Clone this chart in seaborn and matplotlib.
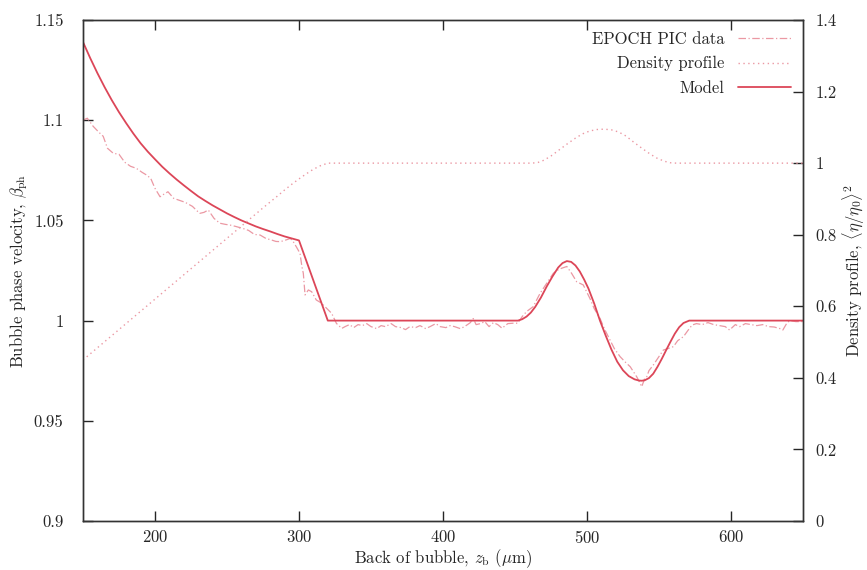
import matplotlib
matplotlib.use("Agg")
import matplotlib.pyplot as plt
import seaborn as sns
import pandas as pd
from matplotlib.ticker import FuncFormatter, MultipleLocator

# Model curve (beta_ph vs z_b, um)
model_z = [150, 155, 160, 165, 170, 175, 180, 185, 190, 195, 200, 205, 210, 215, 220, 225, 230,
           235, 240, 245, 250, 255, 260, 265, 270, 275, 280, 285, 290, 295, 300,
           320, 452, 455, 458, 461, 464, 468, 472, 476, 480, 483, 486, 489, 492, 495, 498,
           501, 505, 509, 513, 517, 521, 525, 529, 533, 536, 538, 540, 543, 546, 549, 552,
           555, 558, 561, 564, 567, 571, 650]
model_b = [1.139, 1.131, 1.1235, 1.1165, 1.110, 1.104, 1.0985, 1.0933, 1.0885, 1.0843, 1.0805,
           1.0768, 1.0735, 1.0704, 1.0675, 1.0647, 1.062, 1.0597, 1.0575, 1.0555, 1.0535,
           1.0517, 1.050, 1.0485, 1.047, 1.0457, 1.0445, 1.0432, 1.042, 1.041, 1.040,
           1.000, 1.000, 1.0007, 1.002, 1.004, 1.0068, 1.0115, 1.017, 1.022, 1.0265, 1.0287,
           1.0297, 1.0293, 1.0275, 1.0245, 1.0205, 1.016, 1.0085, 1.000, 0.9925, 0.9855,
           0.9795, 0.9752, 0.9723, 0.9707, 0.9701, 0.970, 0.9702, 0.9713, 0.9735, 0.977,
           0.981, 0.9853, 0.9895, 0.9935, 0.9967, 0.9988, 1.000, 1.000]

# EPOCH PIC data
pic_z = [150, 153, 157, 161, 164, 167, 171, 175, 179, 183, 187, 191, 194, 197, 200, 203.5, 206,
         209, 213, 217, 221, 226, 231, 234, 237, 241, 245, 249, 252, 256, 261, 265, 269, 273,
         277, 281, 284, 287, 290, 294, 296, 298, 300.7, 302, 303, 304.2, 306.5, 308.8, 312,
         315, 318, 322.7, 326, 329.7, 332, 335, 338, 341, 344, 347, 350, 354, 357, 360, 364,
         367, 371, 374, 377, 381, 384, 388, 391, 395, 398, 402, 405, 408, 412, 415, 419, 421,
         423, 426, 429, 432, 435, 438, 441, 445, 448.8, 452, 455, 458, 462.7, 467.4, 472,
         476.6, 479, 482.3, 486, 489.3, 492.8, 497.4, 502, 505, 509, 512, 516, 519, 523, 527,
         530, 534.5, 536, 538, 540, 541.5, 543, 546, 549, 553, 556, 560, 563, 567, 570, 573,
         576, 580, 584, 588, 592, 596, 599, 603, 606, 610, 614, 618, 622, 626, 630, 634, 636,
         639, 641, 645, 650]
pic_b = [1.100, 1.101, 1.097, 1.094, 1.092, 1.086, 1.0835, 1.083, 1.079, 1.077, 1.076, 1.074,
         1.0727, 1.071, 1.066, 1.0618, 1.063, 1.0643, 1.061, 1.060, 1.059, 1.057, 1.0535,
         1.054, 1.0552, 1.051, 1.0486, 1.048, 1.0477, 1.047, 1.046, 1.045, 1.043, 1.0427,
         1.041, 1.0402, 1.0395, 1.0394, 1.040, 1.041, 1.0394, 1.037, 1.0336, 1.027, 1.0236,
         1.0128, 1.0153, 1.0144, 1.0103, 1.009, 1.007, 1.0036, 0.9986, 0.9961, 0.997, 0.998,
         0.9965, 0.998, 0.9975, 0.9985, 0.997, 0.996, 0.9975, 0.997, 0.9985, 0.997, 0.9965,
         0.9955, 0.997, 0.9965, 0.9975, 0.996, 0.997, 0.9985, 0.997, 0.9965, 0.9975, 0.997,
         0.996, 0.997, 0.999, 1.001, 0.998, 0.9985, 0.9995, 0.997, 0.999, 0.998, 0.9962,
         0.9985, 0.9987, 0.9987, 1.002, 1.0045, 1.007, 1.0136, 1.0186, 1.0236, 1.025, 1.0261,
         1.027, 1.0236, 1.0194, 1.0178, 1.0111, 1.006, 1.0012, 0.996, 0.9903, 0.986, 0.982,
         0.979, 0.977, 0.972, 0.970, 0.967, 0.971, 0.972, 0.975, 0.9778, 0.981, 0.9853, 0.986,
         0.987, 0.990, 0.992, 0.995, 0.9978, 0.9985, 0.998, 0.999, 0.998, 0.9975, 0.997,
         0.9953, 0.998, 0.997, 0.9985, 0.998, 0.9975, 0.998, 0.997, 0.9968, 0.996, 0.9953,
         0.999, 1.000, 0.9995, 0.9995]

# Density profile (right axis)
dens_z = [150, 200, 250, 275, 285, 290, 295, 300, 305, 310, 315, 320, 462, 466, 470, 475, 480,
          486, 492, 497, 502, 507, 512, 517, 522, 527, 532, 538, 544, 549, 554, 558, 562, 650]
dens_v = [0.45, 0.62, 0.79, 0.875, 0.908, 0.925, 0.941, 0.956, 0.970, 0.983, 0.993, 1.0, 1.0,
          1.002, 1.008, 1.020, 1.035, 1.053, 1.070, 1.082, 1.090, 1.094, 1.095, 1.093, 1.087,
          1.076, 1.060, 1.042, 1.025, 1.013, 1.005, 1.001, 1.0, 1.0]

sns.set_style("ticks")
plt.rcParams["font.family"] = ["cmr10", "DejaVu Serif"]
plt.rcParams["mathtext.fontset"] = "cm"
plt.rcParams["axes.formatter.use_mathtext"] = True
plt.rcParams["font.size"] = 12

model_col = "#dc4658"
light_col = "#eb98a3"

fig = plt.figure(figsize=(8.67, 5.70), dpi=100)
ax = fig.add_axes([83 / 867, 1 - 521 / 570, 720 / 867, 501 / 570])
ax2 = ax.twinx()

df_pic = pd.DataFrame({"z": pic_z, "b": pic_b})
df_model = pd.DataFrame({"z": model_z, "b": model_b})
df_dens = pd.DataFrame({"z": dens_z, "d": dens_v})

pic_ls = (0, (6, 2, 1, 2))
dens_ls = (0, (1, 2.5))
sns.lineplot(data=df_pic, x="z", y="b", ax=ax, color=light_col, lw=0.9,
             linestyle=pic_ls, estimator=None, sort=False)
sns.lineplot(data=df_model, x="z", y="b", ax=ax, color=model_col, lw=1.3,
             estimator=None, sort=False)
sns.lineplot(data=df_dens, x="z", y="d", ax=ax2, color=light_col, lw=1.0,
             linestyle=dens_ls, estimator=None, sort=False)
l1, = ax.plot([], [], color=light_col, lw=0.9, ls=pic_ls, label="EPOCH PIC data")
l2, = ax.plot([], [], color=light_col, lw=1.0, ls=dens_ls, label="Density profile")
l3, = ax.plot([], [], color=model_col, lw=1.3, label="Model")

ax.set_xlim(150, 650)
ax.set_ylim(0.9, 1.15)
ax2.set_ylim(0, 1.4)
ax.xaxis.set_major_locator(MultipleLocator(100))
ax.yaxis.set_major_locator(MultipleLocator(0.05))
ax2.yaxis.set_major_locator(MultipleLocator(0.2))
fmt = FuncFormatter(lambda v, p: "%g" % round(v, 6))
ax.yaxis.set_major_formatter(fmt)
ax2.yaxis.set_major_formatter(fmt)

ax.tick_params(axis="x", direction="in", top=True, length=7, width=1, pad=6)
ax.tick_params(axis="y", direction="in", right=False, length=7, width=1, pad=14)
ax2.tick_params(axis="y", direction="in", length=7, width=1, pad=9)
for a in (ax, ax2):
    for s in a.spines.values():
        s.set_color("#333333")
        s.set_linewidth(1.0)

ax.set_xlabel(r"Back of bubble, $z_{\rm b}$ ($\mu$m)", labelpad=1)
ax.set_ylabel(r"Bubble phase velocity, $\beta_{\rm ph}$", labelpad=3)
ax2.set_ylabel(r"Density profile, $\langle\eta/\eta_0\rangle^2$", rotation=90, labelpad=3)

ax.legend(handles=[l1, l2, l3], loc="upper right", frameon=False, markerfirst=False,
          handlelength=3.2, fontsize=12, labelspacing=0.55, borderaxespad=0.3)

fig.savefig("out.png", dpi=100)
